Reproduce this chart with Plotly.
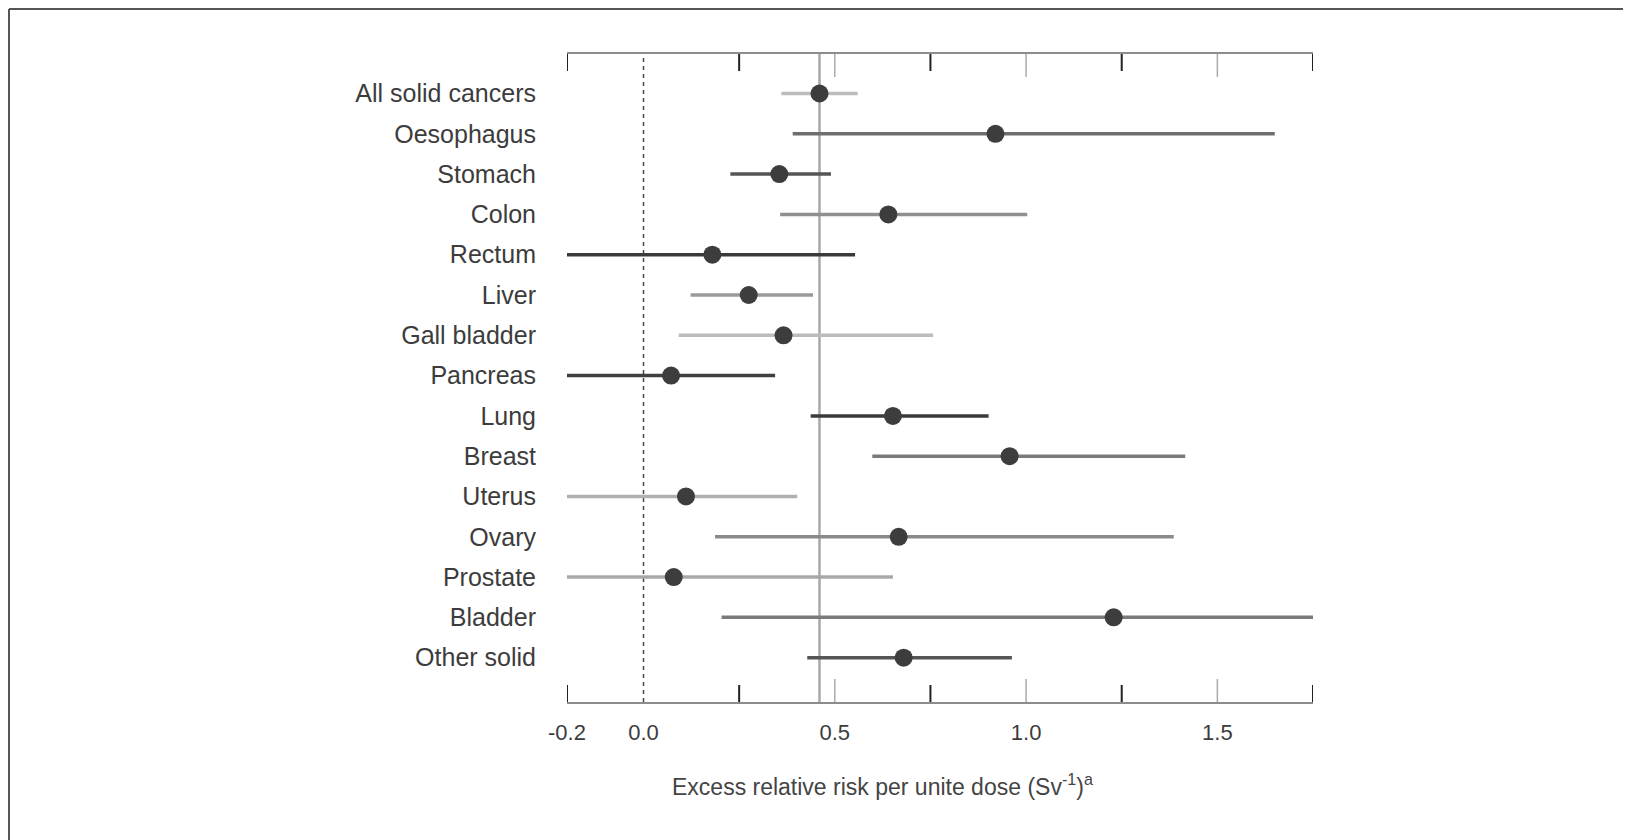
import plotly.graph_objects as go

# ---- data ----
categories = ["All solid cancers", "Oesophagus", "Stomach", "Colon", "Rectum", "Liver",
              "Gall bladder", "Pancreas", "Lung", "Breast", "Uterus", "Ovary",
              "Prostate", "Bladder", "Other solid"]
err = [0.46, 0.92, 0.355, 0.64, 0.18, 0.275, 0.366, 0.072, 0.652, 0.957, 0.111, 0.667, 0.079, 1.229, 0.68]
ci_low = [0.36, 0.39, 0.227, 0.357, -0.2, 0.123, 0.092, -0.2, 0.437, 0.598, -0.2, 0.187, -0.2, 0.204, 0.428]
ci_high = [0.56, 1.65, 0.49, 1.003, 0.553, 0.443, 0.757, 0.344, 0.902, 1.416, 0.402, 1.386, 0.652, 1.75, 0.963]
tick_vals = [-0.2, 0.0, 0.5, 1.0, 1.5]
tick_text = ["-0.2", "0.0", "0.5", "1.0", "1.5"]
major_marks = [-0.2, 0.25, 0.75, 1.25, 1.75]
minor_marks = [0.5, 1.0, 1.5]

# ---- styles ----
bar_colors = ["#bdbdbd", "#6e6e6e", "#555555", "#8f8f8f", "#3a3a3a", "#9a9a9a",
              "#bcbcbc", "#3f3f3f", "#3a3a3a", "#7a7a7a", "#b0b0b0", "#8a8a8a",
              "#a8a8a8", "#7a7a7a", "#555555"]
FONT = "Liberation Sans, Arial, sans-serif"
TXT = "#3c3c3c"

OFF = 8  # page body margin
W, H = 1631, 840
L = 567 - OFF
T = 54 - OFF
R = W - (1313 - OFF)
B = H - (702 - OFF)
pw, ph = W - L - R, H - T - B

def px2paper_x(px):
    return (px - OFF - L) / pw

def py2paper_y(py):
    return (H - B - (py - OFF)) / ph

fig = go.Figure()
yidx = list(range(len(categories)))

for i in yidx:
    fig.add_trace(go.Scatter(x=[ci_low[i], ci_high[i]], y=[i, i], mode="lines",
                             line=dict(color=bar_colors[i], width=3.5),
                             hoverinfo="skip", showlegend=False))

fig.add_trace(go.Scatter(x=err, y=yidx, mode="markers",
                         marker=dict(color="#3d3d3d", size=18, line=dict(width=0)),
                         showlegend=False))

shapes = []
shapes.append(dict(type="line", xref="x", yref="paper", x0=0, x1=0, y0=0, y1=1,
                   line=dict(color="#444444", width=1.5, dash="4px,4px"), layer="below"))
shapes.append(dict(type="line", xref="x", yref="paper", x0=err[0], x1=err[0], y0=0, y1=1,
                   line=dict(color="#a8a8a8", width=2.5), layer="below"))
for v in major_marks:
    for y0, y1 in [(1, 1 - 17 / ph), (0, 17 / ph)]:
        shapes.append(dict(type="line", xref="x", yref="paper", x0=v, x1=v, y0=y0, y1=y1,
                           line=dict(color="#222222", width=2)))
for v in minor_marks:
    for y0, y1 in [(1, 1 - 23 / ph), (0, 23 / ph)]:
        shapes.append(dict(type="line", xref="x", yref="paper", x0=v, x1=v, y0=y0, y1=y1,
                           line=dict(color="#aaaaaa", width=1.5)))
# outer frame (top and left)
shapes.append(dict(type="line", xref="paper", yref="paper",
                   x0=px2paper_x(9), x1=px2paper_x(1650), y0=py2paper_y(9), y1=py2paper_y(9),
                   line=dict(color="#555555", width=2)))
shapes.append(dict(type="line", xref="paper", yref="paper",
                   x0=px2paper_x(9), x1=px2paper_x(9), y0=py2paper_y(9), y1=py2paper_y(850),
                   line=dict(color="#555555", width=2)))

fig.update_layout(
    width=W, height=H, autosize=False,
    margin=dict(l=L, r=R, t=T, b=B),
    plot_bgcolor="white", paper_bgcolor="white",
    shapes=shapes,
    font=dict(family=FONT, color=TXT),
    xaxis=dict(range=[-0.2, 1.75], tickvals=tick_vals, ticktext=tick_text,
               showgrid=False, zeroline=False, showline=True, mirror=True,
               linecolor="#8c8c8c", linewidth=2, ticks="",
               ticklabelstandoff=10, tickfont=dict(size=22, color=TXT, family=FONT)),
    yaxis=dict(range=[15.1, -0.98], tickvals=yidx, ticktext=categories,
               showgrid=False, zeroline=False, showline=False, ticks="",
               ticklabelstandoff=30, tickfont=dict(size=25, color=TXT, family=FONT)),
    annotations=[dict(text="Excess relative risk per unite dose (Sv<sup>-1</sup>)<sup>a</sup>",
                      xref="paper", yref="paper", x=px2paper_x(882), y=py2paper_y(785),
                      xanchor="center", yanchor="middle", showarrow=False,
                      font=dict(size=23, color="#444444", family=FONT))],
)

fig.write_html("out.html")
